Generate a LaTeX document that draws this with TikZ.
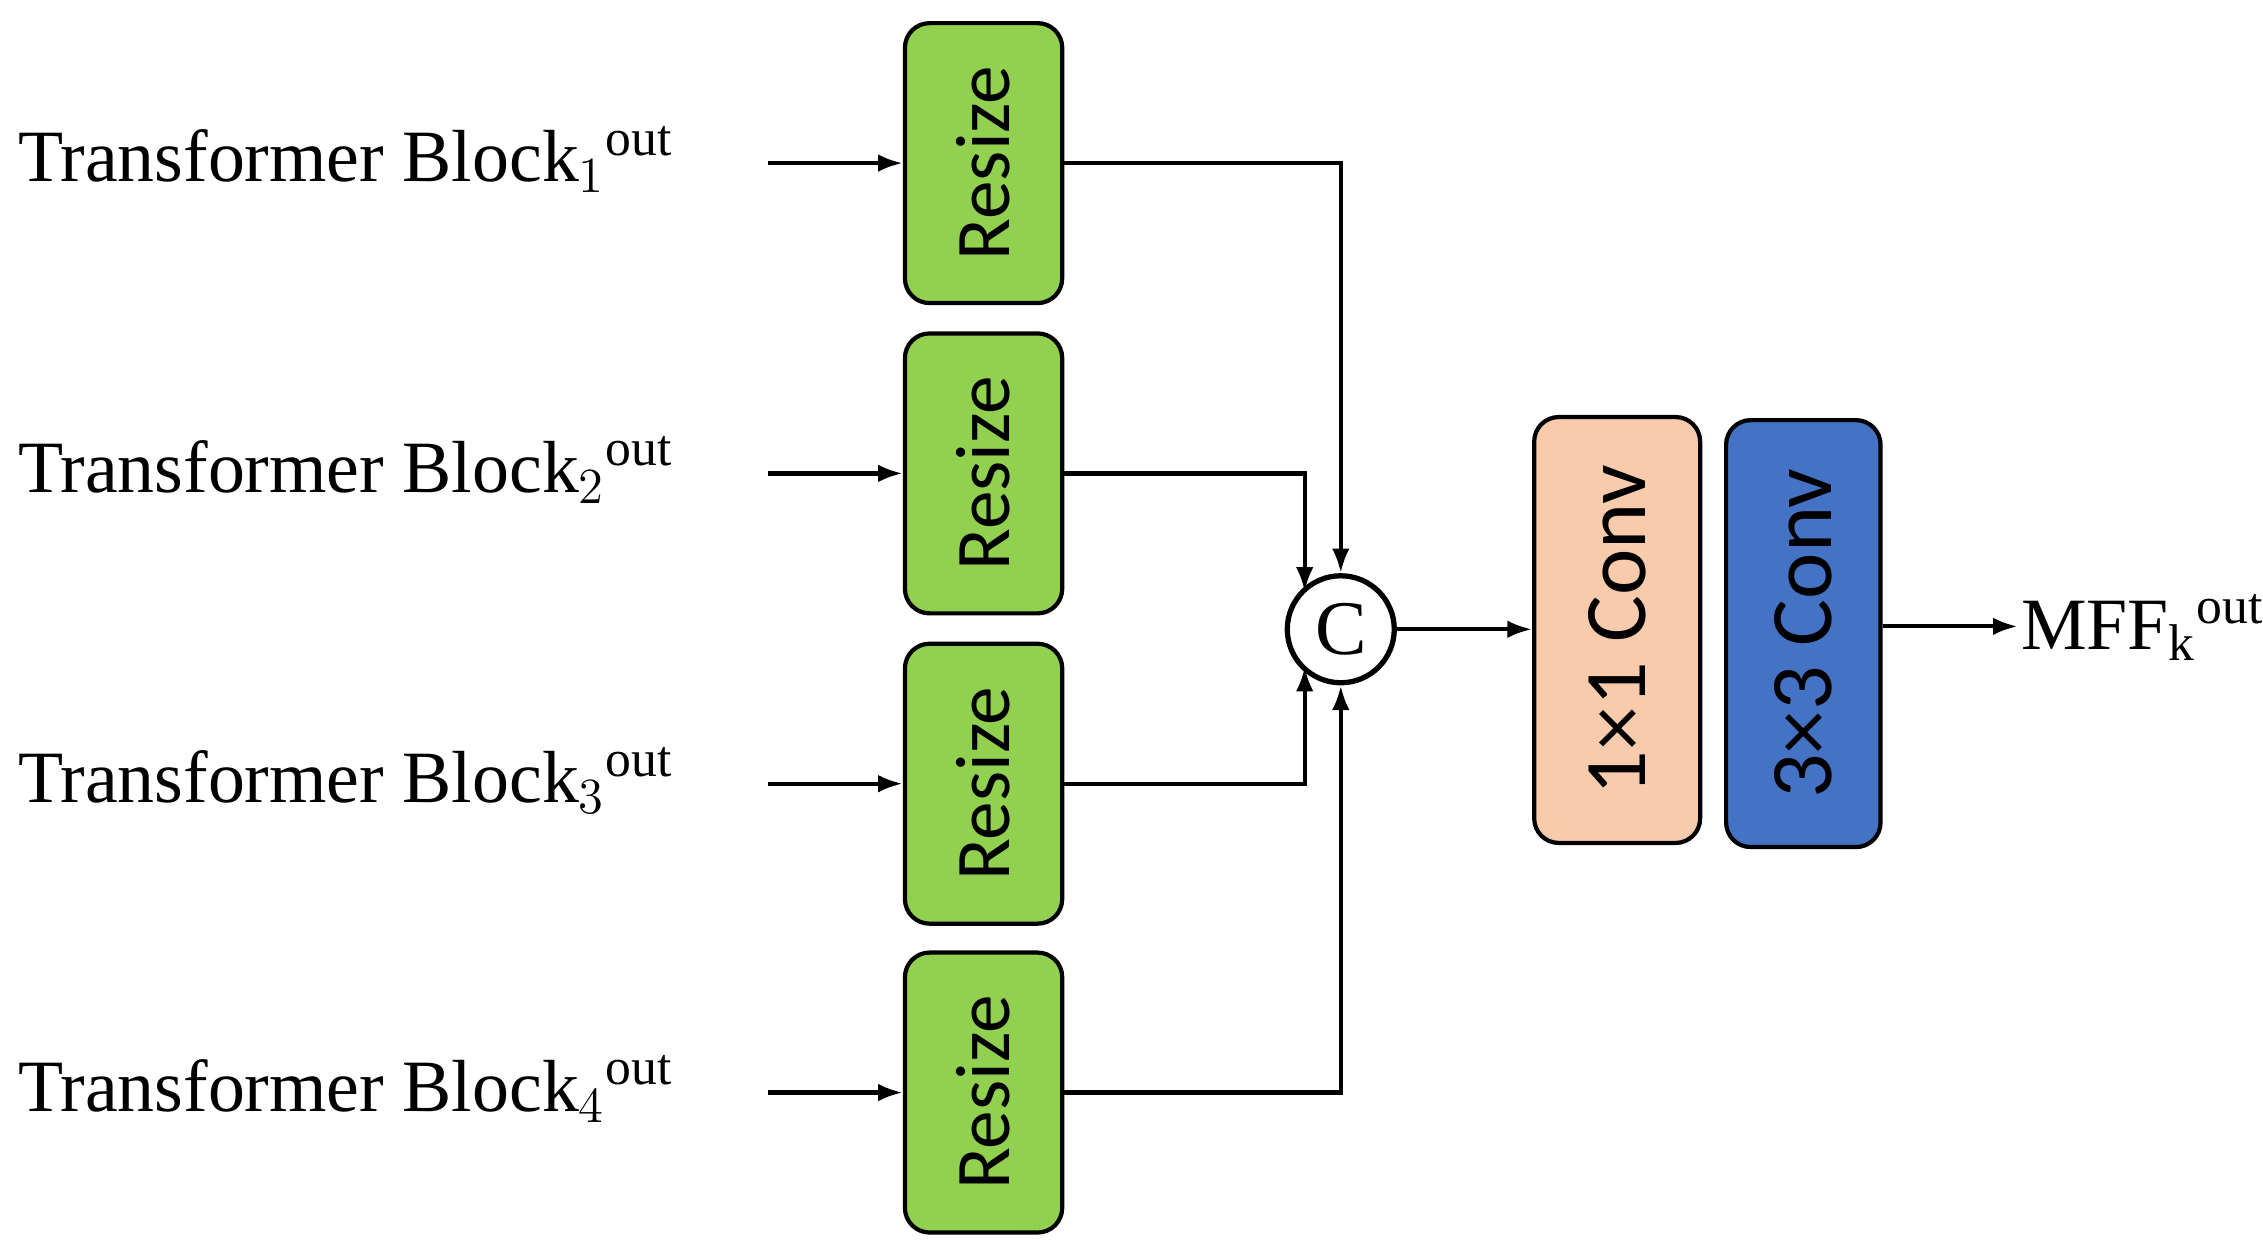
\documentclass[tikz,border=0pt]{standalone}
\usepackage{fontspec}
\setmainfont{Liberation Serif}
\newfontfamily\calfont{Carlito}
\usetikzlibrary{arrows.meta}
\definecolor{rg}{HTML}{92D050}
\definecolor{pk}{HTML}{F8CBAD}
\definecolor{bl}{HTML}{4472C4}
\begin{document}
\begin{tikzpicture}[x=0.01443cm,y=-0.01443cm,
 box/.style={draw,line width=1.2pt,rounded corners=7pt,inner sep=0pt},
 lbl/.style={anchor=base west,inner sep=0pt,font=\fontsize{21}{24}\selectfont},
 rot/.style={rotate=90,font=\calfont\fontsize{22}{24}\selectfont},
 ar/.style={line width=1.2pt,-{Latex[length=7pt,width=5pt]}}]
\useasboundingbox (0,0) rectangle (1568,873);
\foreach \i/\y in {1/113,2/328,3/543,4/757}{
 \node[box,fill=rg,minimum width=1.573cm,minimum height=2.8cm] (r\i) at (681.5,\y) {};
 \node[rot] at (r\i) {Resize};
 \node[lbl] (t\i) at (12,\y+13) {Transformer Block$_{\i}$\textsuperscript{out}};
 \coordinate (s\i) at (532,\y);
 \draw[ar] (s\i) -- (r\i.west);
}
\node[draw,circle,line width=1.5pt,minimum size=1.07cm,inner sep=0pt,font=\fontsize{22}{24}\selectfont] (c) at (929,436) {C};
\coordinate (c2) at (904,410);
\coordinate (c3) at (904,462);
\draw[ar] (r1.east) -| (c.north);
\draw[ar] (r4.east) -| (c.south);
\draw[ar] (r2.east) -| (c2);
\draw[ar] (r3.east) -| (c3);
\node[box,fill=pk,minimum width=1.66cm,minimum height=4.26cm] (k1) at (1120.5,436.5) {};
\node[rot,font=\calfont\fontsize{25}{28}\selectfont] at (k1) {1×1 Conv};
\node[box,fill=bl,minimum width=1.545cm,minimum height=4.27cm] (k3) at (1249.5,439) {};
\node[rot,font=\calfont\fontsize{25}{28}\selectfont] at (k3) {3×3 Conv};
\draw[ar] (c.east) -- (k1.west|-c.east);
\node[lbl] (m) at (1400,450) {MFF$_{\mathrm{k}}$\textsuperscript{out}};
\coordinate (mi) at (1398,434);
\draw[ar] (k3.east|-mi) -- (mi);
\end{tikzpicture}
\end{document}
